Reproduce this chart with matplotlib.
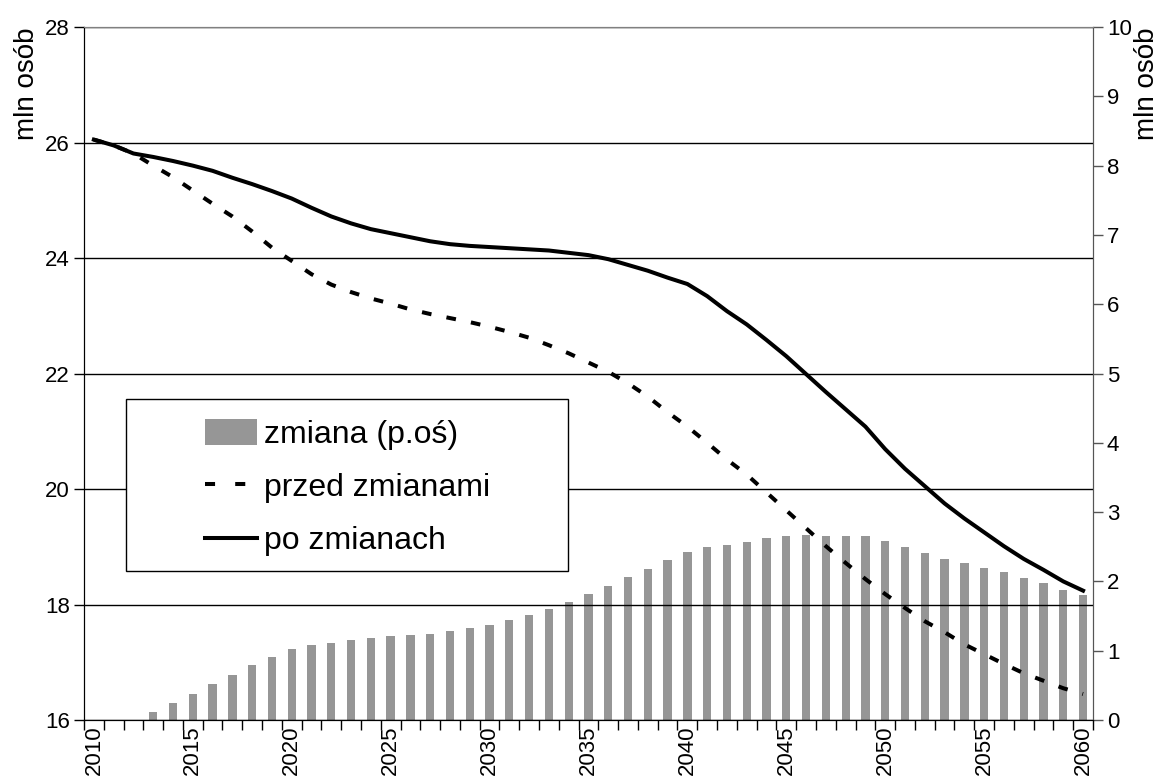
import numpy as np
import matplotlib
matplotlib.use('Agg')
import matplotlib.pyplot as plt
from matplotlib.patches import Rectangle, Patch
from matplotlib.lines import Line2D

plt.rcParams['font.family'] = ['Liberation Sans', 'DejaVu Sans']

# data
years = list(range(2010, 2061))
po_zmianach = [26.05, 25.95, 25.81, 25.75, 25.68, 25.60, 25.51, 25.39, 25.28, 25.16,
               25.03, 24.87, 24.72, 24.60, 24.50, 24.43, 24.36, 24.29, 24.24, 24.21,
               24.19, 24.17, 24.15, 24.13, 24.09, 24.05, 23.98, 23.88, 23.78, 23.66,
               23.55, 23.34, 23.08, 22.85, 22.58, 22.30, 21.99, 21.68, 21.38, 21.08,
               20.69, 20.35, 20.05, 19.75, 19.49, 19.25, 19.01, 18.79, 18.60, 18.40,
               18.24]
przed_zmianami = [26.05, 25.95, 25.81, 25.60, 25.40, 25.17, 24.94, 24.72, 24.46, 24.18,
                  23.95, 23.72, 23.54, 23.41, 23.30, 23.21, 23.11, 23.03, 22.96, 22.89,
                  22.81, 22.72, 22.62, 22.49, 22.35, 22.19, 22.03, 21.83, 21.60, 21.33,
                  21.08, 20.80, 20.51, 20.25, 19.94, 19.63, 19.32, 19.01, 18.72, 18.44,
                  18.18, 17.94, 17.71, 17.52, 17.31, 17.14, 16.97, 16.81, 16.68, 16.55,
                  16.45]
zmiana = [0, 0, 0, 0.12, 0.25, 0.38, 0.52, 0.65, 0.79, 0.91,
          1.02, 1.08, 1.11, 1.15, 1.18, 1.21, 1.23, 1.24, 1.28, 1.33,
          1.37, 1.44, 1.52, 1.60, 1.70, 1.82, 1.94, 2.07, 2.18, 2.31,
          2.43, 2.49, 2.53, 2.57, 2.62, 2.66, 2.67, 2.66, 2.66, 2.65,
          2.59, 2.50, 2.41, 2.33, 2.26, 2.20, 2.13, 2.05, 1.97, 1.88,
          1.81]
tick_years = [str(y) for y in years if y % 5 == 0]

x = np.arange(len(years))

fig = plt.figure(figsize=(11.6, 7.81), dpi=100)
ax = fig.add_axes([0.0724, 0.0781, 0.8698, 0.8873])
ax2 = ax.twinx()

# bars on right axis, drawn below the lines
ax2.bar(x, zmiana, width=0.42, color='#969696', zorder=1)
ax2.set_ylim(0, 10)
ax2.set_yticks(range(0, 11))
ax.set_zorder(ax2.get_zorder() + 1)
ax.patch.set_visible(False)

ax.plot(x, przed_zmianami, color='black', lw=2.9, linestyle=(0, (2.4, 3.8)),
        dash_capstyle='butt', zorder=3)
ax.plot(x, po_zmianach, color='black', lw=2.9, zorder=4)

ax.set_ylim(16, 28)
ax.set_yticks(range(16, 29, 2))
ax.set_xlim(-0.5, len(years) - 0.5)
ax.grid(axis='y', color='black', lw=1)
ax.set_axisbelow(True)

# x ticks: marks between categories, labels every 5 years
ax.set_xticks([i for i, y in enumerate(years) if y % 5 == 0])
ax.set_xticklabels(tick_years, rotation=90)
ax.set_xticks(np.arange(-0.5, len(years)), minor=True)
ax.tick_params(axis='x', which='major', length=0, pad=4, labelsize=16)
ax.tick_params(axis='x', which='minor', length=7, width=1)
ax.tick_params(axis='y', length=7, width=1, labelsize=16, pad=3)
ax2.tick_params(axis='y', length=7, width=1, labelsize=16, pad=3, color='#555555')

ax.set_ylabel('mln osób', fontsize=20, loc='top', labelpad=4)
ax2.set_ylabel('mln osób', fontsize=20, loc='top', labelpad=2)

for a in (ax, ax2):
    a.spines['top'].set_color('#808080')
    a.spines['right'].set_color('#555555')
    a.spines['left'].set_color('black')
    a.spines['bottom'].set_color('black')

# legend
handles = [Patch(facecolor='#969696', edgecolor='none'),
           Line2D([], [], color='black', lw=2.9, linestyle=(0, (2.5, 5.0)), dash_capstyle='butt'),
           Line2D([], [], color='black', lw=2.9)]
labels = ['zmiana (p.oś)', 'przed zmianami', 'po zmianach']
leg = ax.legend(handles, labels, loc='center', bbox_to_anchor=(0.261, 0.335),
                frameon=False, fontsize=23, handlelength=1.65, handleheight=0.85,
                handletextpad=0.2, labelspacing=0.7)
ax.add_patch(Rectangle((0.0416, 0.215), 0.4386, 0.248, transform=ax.transAxes,
                       facecolor='white', edgecolor='black', lw=1, zorder=5))
leg.set_zorder(6)

fig.savefig('out.png', dpi=100)
